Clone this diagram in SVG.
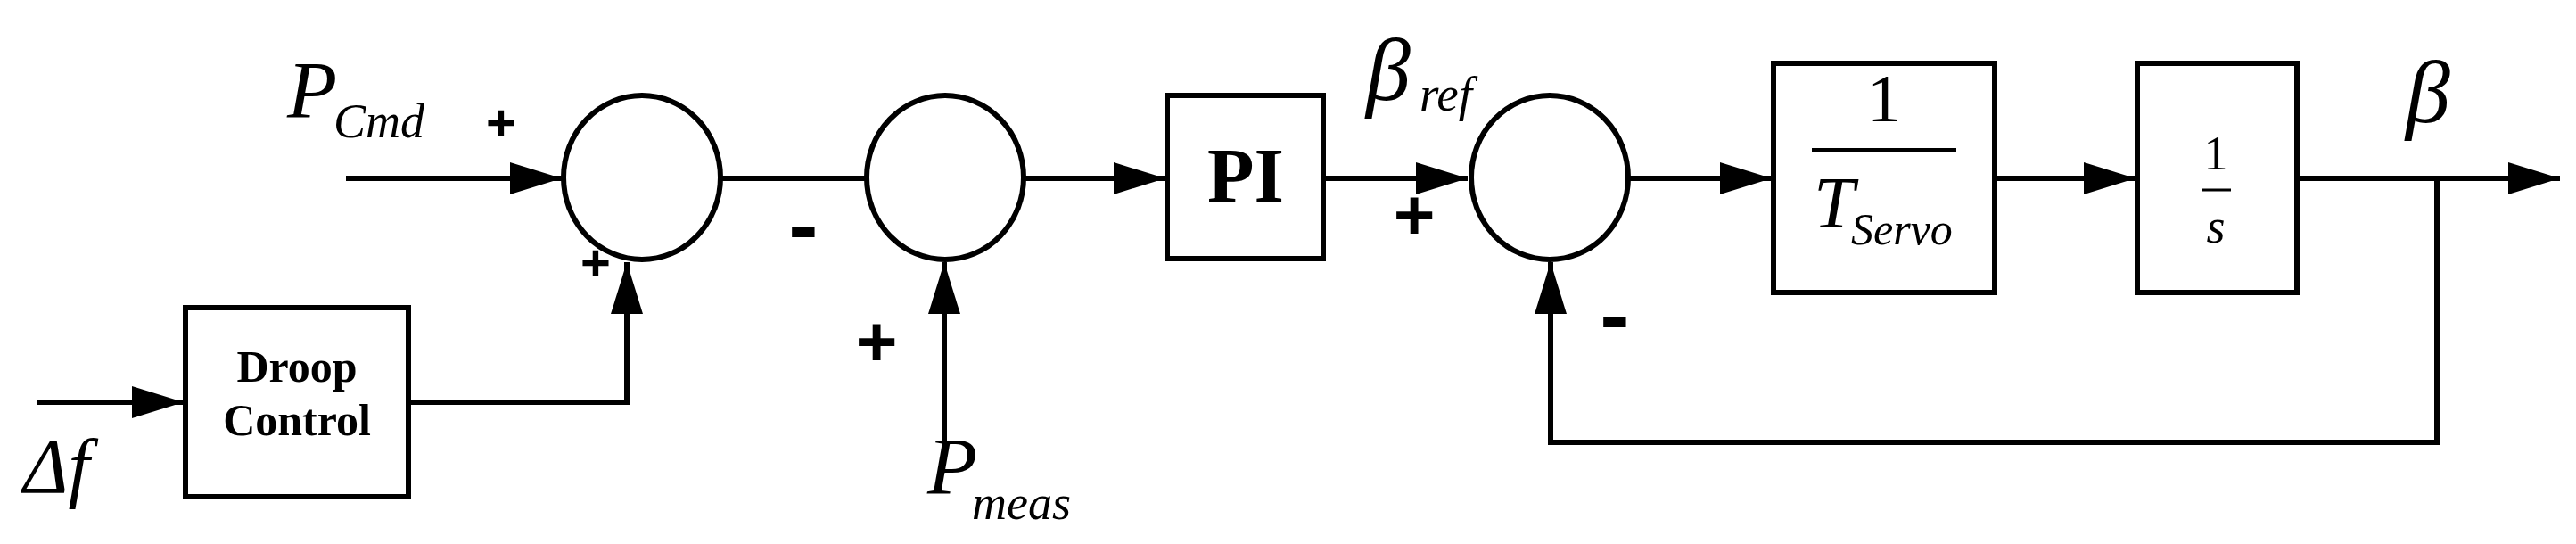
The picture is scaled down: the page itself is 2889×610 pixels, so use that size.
<svg xmlns="http://www.w3.org/2000/svg" width="2889" height="610" viewBox="0 0 2889 610">
<style>
.ln{fill:none;stroke:#000;stroke-width:6}
.bx{fill:#fff;stroke:#000;stroke-width:6}
.it{font-family:"Liberation Serif",serif;font-style:italic}
.rm{font-family:"Liberation Serif",serif}
.sg{font-family:"Liberation Sans",sans-serif;font-weight:bold}
</style>
<defs>
<marker id="ah" markerUnits="userSpaceOnUse" markerWidth="60" markerHeight="38" refX="58" refY="18" orient="auto">
<path d="M0,0 L58,18 L0,36 z" fill="#000"/>
</marker>
</defs>
<rect width="2889" height="610" fill="#fff"/>
<g id="connectors">
<path class="ln" d="M388,200 H630" marker-end="url(#ah)"/>
<path class="ln" d="M42,451 H206" marker-end="url(#ah)"/>
<path class="ln" d="M458,451 H703 V294" marker-end="url(#ah)"/>
<path class="ln" d="M808,200 H971"/>
<path class="ln" d="M1059,496 V294" marker-end="url(#ah)"/>
<path class="ln" d="M1149,200 H1307" marker-end="url(#ah)"/>
<path class="ln" d="M1484,200 H1646" marker-end="url(#ah)"/>
<path class="ln" d="M1827,200 H1987" marker-end="url(#ah)"/>
<path class="ln" d="M2237,200 H2395" marker-end="url(#ah)"/>
<path class="ln" d="M2576,200 H2871" marker-end="url(#ah)"/>
<path class="ln" d="M2733,200 V496 H1739 V294" marker-end="url(#ah)"/>
</g>
<g id="sum1"><ellipse class="bx" cx="720" cy="199" rx="88" ry="92"/></g>
<g id="sum2"><ellipse class="bx" cx="1060" cy="199" rx="88" ry="92"/></g>
<g id="sum3"><ellipse class="bx" cx="1738" cy="199" rx="88" ry="92"/></g>
<g id="droop">
<rect class="bx" x="208" y="345" width="250" height="212"/>
<text class="rm" font-weight="bold" font-size="50" x="333" y="428" text-anchor="middle">Droop</text>
<text class="rm" font-weight="bold" font-size="50" x="333" y="488" text-anchor="middle">Control</text>
</g>
<g id="pi">
<rect class="bx" x="1309" y="107" width="175" height="183"/>
<text class="rm" font-weight="bold" font-size="86" x="1397" y="226" text-anchor="middle">PI</text>
</g>
<g id="servo">
<rect class="bx" x="1989" y="71" width="248" height="257"/>
<text class="rm" font-size="76" x="2113" y="136" text-anchor="middle">1</text>
<line x1="2032" y1="168" x2="2194" y2="168" stroke="#000" stroke-width="4"/>
<text class="it" font-size="82" x="2034" y="255">T</text>
<text class="it" font-size="50" x="2076" y="274">Servo</text>
</g>
<g id="integrator">
<rect class="bx" x="2397" y="71" width="179" height="257"/>
<text class="rm" font-size="54" x="2485" y="190" text-anchor="middle">1</text>
<line x1="2470" y1="213" x2="2502" y2="213" stroke="#000" stroke-width="3"/>
<text class="it" font-size="54" x="2485" y="272" text-anchor="middle">s</text>
</g>
<g id="labels">
<text class="it" font-size="92" x="322" y="132">P</text>
<text class="it" font-size="54" x="374" y="154">Cmd</text>
<text class="sg" font-size="58" x="562" y="158" text-anchor="middle">+</text>
<text class="sg" font-size="58" x="668" y="315" text-anchor="middle">+</text>
<text class="sg" font-size="100" x="901" y="286" text-anchor="middle">-</text>
<text class="sg" font-size="80" x="983" y="410" text-anchor="middle">+</text>
<text class="it" font-size="92" x="1040" y="554">P</text>
<text class="it" font-size="54" x="1090" y="582">meas</text>
<text class="it" font-size="86" x="26" y="552">Δf</text>
<text class="it" font-size="100" x="1532" y="112">β</text>
<text class="it" font-size="55" x="1592" y="124">ref</text>
<text class="sg" font-size="80" x="1586" y="268" text-anchor="middle">+</text>
<text class="sg" font-size="100" x="1811" y="387" text-anchor="middle">-</text>
<text class="it" font-size="100" x="2698" y="137">β</text>
</g>
</svg>
